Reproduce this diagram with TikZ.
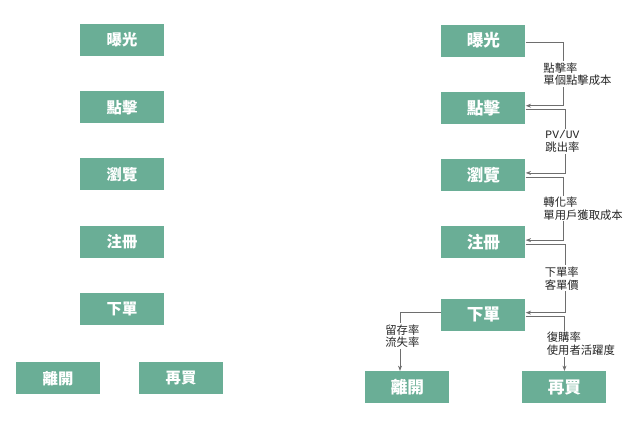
\documentclass[tikz,border=0pt]{standalone}
\usepackage{fontspec}
\setmainfont{Noto Sans CJK TC}
\newfontfamily\monofont{Liberation Mono}
\usetikzlibrary{arrows.meta, positioning}
\definecolor{stagegreen}{RGB}{106,174,150}
\definecolor{linkgray}{RGB}{110,110,110}

\begin{document}
\begin{tikzpicture}[
    node distance=26pt,
    stage/.style={rectangle, fill=stagegreen, minimum width=63pt, minimum height=24pt, inner sep=2pt, text=white, font=\fontsize{11.5}{12}\selectfont\bfseries},
    stagebig/.style={stage, font=\fontsize{12.5}{13}\selectfont\bfseries},
    link/.style={-{Stealth[length=4pt, width=3pt]}, line width=0.6pt, draw=linkgray},
    metric/.style={fill=white, inner sep=1pt, align=left, anchor=west, xshift=#1, text=black!85, font=\fontsize{8.5}{9.5}\selectfont},
    metric/.default=-16.5pt
]
\useasboundingbox (0,0) rectangle (480pt,-320.25pt);

% Left column: stages only
\node[stage] (exposeL) at (91.5pt,-30pt) {曝光};
\node[stage, below=of exposeL] (clickL) {點擊};
\node[stage, below=of clickL] (browseL) {瀏覽};
\node[stage, below=of browseL] (signupL) {注冊};
\node[stage, below=of signupL] (orderL) {下單};
\node[stage, below=27.75pt of orderL, xshift=-48pt] (leaveL) {離開};
\node[stage, below=27.75pt of orderL, xshift=44.25pt] (rebuyL) {再買};

% Right column: stages with metrics
\node[stagebig] (exposeR) at (362.6pt,-30.4pt) {曝光};
\node[stagebig, below=of exposeR] (clickR) {點擊};
\node[stagebig, below=of clickR] (browseR) {瀏覽};
\node[stagebig, below=of browseR] (signupR) {注冊};
\node[stagebig, below=30pt of signupR] (orderR) {下單};
\node[stagebig, below=30pt of orderR, xshift=-57pt] (leaveR) {離開};
\node[stagebig, below=30pt of orderR, xshift=60.75pt] (rebuyR) {再買};

% Funnel connectors
\draw[link] ([yshift=-1.5pt]exposeR.east) -- ++(28.5pt,0) |- node[metric, pos=0.25] {點擊率\\單個點擊成本} ([yshift=1.5pt]clickR.east);
\draw[link] ([yshift=-1.5pt]clickR.east) -- ++(30pt,0) |- node[metric, pos=0.25] {{\monofont PV/UV}\\跳出率} ([yshift=1.5pt]browseR.east);
\draw[link] ([yshift=-1.5pt]browseR.east) -- ++(28.5pt,0) |- node[metric, pos=0.25] {轉化率\\單用戶獲取成本} ([yshift=1.5pt]signupR.east);
\draw[link] ([yshift=-1.5pt]signupR.east) -- ++(29.5pt,0) |- node[metric, pos=0.25] {下單率\\客單價} ([yshift=1.5pt]orderR.east);

% Split after order
\draw[link] ([yshift=2pt]orderR.west) -| node[metric=-12.25pt, pos=0.75, yshift=4pt] {留存率\\流失率} ([xshift=-5.6pt]leaveR.north);
\draw[link] ([yshift=-1.5pt]orderR.east) -| node[metric=-14.5pt, pos=0.75] {復購率\\使用者活躍度} (rebuyR.north);

\end{tikzpicture}
\end{document}
